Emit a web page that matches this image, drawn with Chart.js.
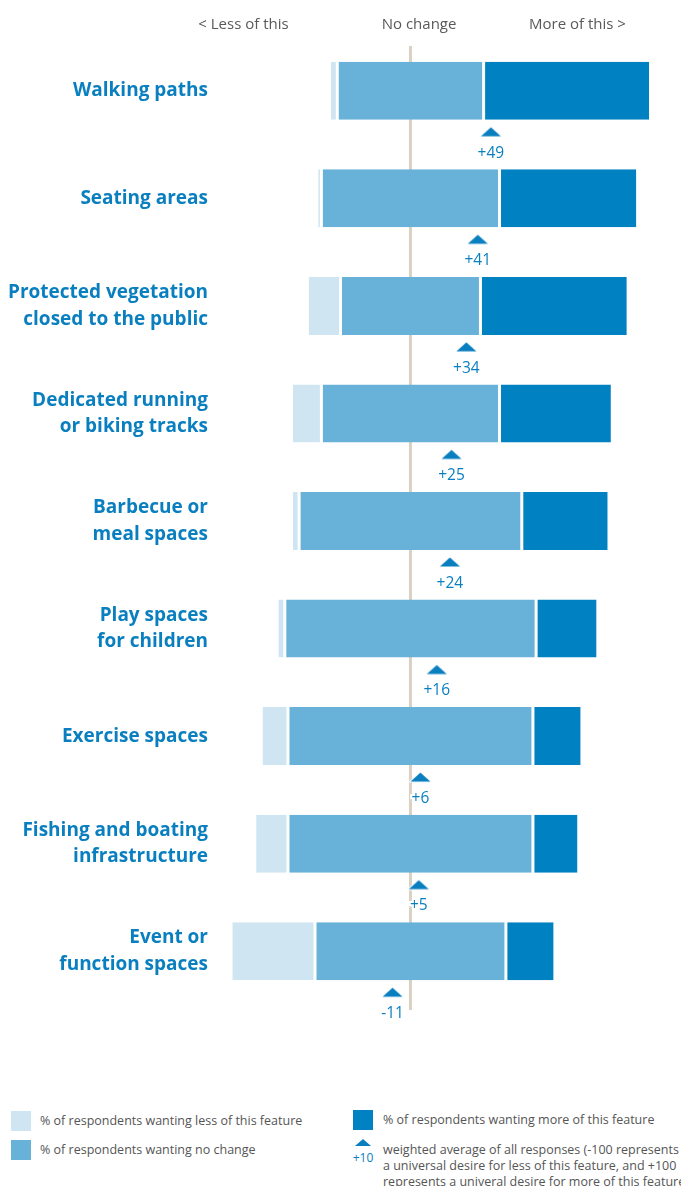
<!DOCTYPE html>
<html lang="en">
<head>
<meta charset="UTF-8" />
<meta name="viewport" content="width=device-width, initial-scale=1.0" />
<title>Park features: less, no change or more</title>
<script src="https://cdn.jsdelivr.net/npm/chart.js"></script>
<style>
  * { box-sizing: border-box; }
  body { margin: 0; width: 681px; height: 1186px; overflow: hidden; background: #fff; font-family: 'Open Sans', sans-serif; }
  .chart-wrap { position: absolute; top: 0; left: 0; width: 681px; height: 1040px; }
  .legend { font-size: 12.5px; color: #555; }
  .legend div { position: absolute; }
  .sw { width: 20px; height: 20px; }
  .txt { line-height: 16px; white-space: nowrap; }
  .tri { width: 0; height: 0; border-left: 8px solid transparent; border-right: 8px solid transparent; border-bottom: 7px solid #0a7fc0; }
  .tri-lbl { color: #0a7fc0; font-size: 12px; width: 30px; text-align: center; }
</style>
</head>
<body>
<div class="chart-wrap"><canvas id="chart"></canvas></div>

<div class="legend">
  <div class="sw" style="left:11px;top:1111px;background:#cfe5f2"></div>
  <div class="txt" style="left:40px;top:1113px">% of respondents wanting less of this feature</div>
  <div class="sw" style="left:11px;top:1140px;background:#68b1d8"></div>
  <div class="txt" style="left:40px;top:1142px">% of respondents wanting no change</div>
  <div class="sw" style="left:353px;top:1110px;background:#0081c1"></div>
  <div class="txt" style="left:383px;top:1112px">% of respondents wanting more of this feature</div>
  <div class="tri" style="left:355px;top:1139px"></div>
  <div class="tri-lbl" style="left:348px;top:1149px">+10</div>
  <div class="txt" style="left:383px;top:1142px">weighted average of all responses (-100 represents<br>a universal desire for less of this feature, and +100<br>represents a univeral desire for more of this feature)</div>
</div>

<script>
  // data
  const categories = [
    ['Walking paths'],
    ['Seating areas'],
    ['Protected vegetation', 'closed to the public'],
    ['Dedicated running', 'or biking tracks'],
    ['Barbecue or', 'meal spaces'],
    ['Play spaces', 'for children'],
    ['Exercise spaces'],
    ['Fishing and boating', 'infrastructure'],
    ['Event or', 'function spaces']
  ];
  const lessPct     = [2, 1, 10, 9, 2, 2, 8, 10, 26];
  const noChangePct = [46, 56, 44, 56, 70, 79, 77, 77, 60];
  const morePct     = [52, 43, 46, 35, 27, 19, 15, 14, 15];
  const weightedAvg = [49, 41, 34, 25, 24, 16, 6, 5, -11];
  const headerTicks  = [-52.5, 2.7, 52.5];
  const headerLabels = ['< Less of this', 'No change', 'More of this >'];

  const BLUE = '#0a7fc0';
  const LIGHT = '#cfe5f2', MID = '#68b1d8', DARK = '#0081c1';
  const MARK_OFFSET = 0.381;   // triangle below the bar, in category units
  const LABEL_OFFSET = 0.58;

  // diverging bars: "no change" centred on zero
  const lessBars = lessPct.map((v, i) => [-noChangePct[i] / 2 - v, -noChangePct[i] / 2]);
  const ncBars   = noChangePct.map(v => [-v / 2, v / 2]);
  const moreBars = morePct.map((v, i) => [noChangePct[i] / 2, noChangePct[i] / 2 + v]);
  const markers  = weightedAvg.map((w, i) => ({ x: w, y: i + MARK_OFFSET }));

  // flat triangle marker
  const tri = document.createElement('canvas');
  tri.width = 23; tri.height = 12;
  const tc = tri.getContext('2d');
  tc.beginPath();
  tc.moveTo(1.5, 10.5); tc.lineTo(11.5, 1.5); tc.lineTo(21.5, 10.5); tc.closePath();
  tc.strokeStyle = '#fff'; tc.lineWidth = 2; tc.stroke();
  tc.fillStyle = BLUE; tc.fill();

  const zeroLine = {
    id: 'zeroLine',
    beforeDatasetsDraw(chart) {
      const { ctx, chartArea, scales } = chart;
      const px = scales.x.getPixelForValue(0);
      ctx.save();
      ctx.strokeStyle = '#d9d1c2';
      ctx.lineWidth = 3;
      ctx.beginPath();
      ctx.moveTo(px, chartArea.top + 9);
      ctx.lineTo(px, chartArea.bottom + 5);
      ctx.stroke();
      ctx.restore();
    }
  };

  const markLabels = {
    id: 'markLabels',
    afterDatasetsDraw(chart) {
      const { ctx, scales } = chart;
      const meta = chart.getDatasetMeta(3);
      ctx.save();
      ctx.font = '15.5px "Open Sans", sans-serif';
      ctx.textAlign = 'center';
      ctx.textBaseline = 'middle';
      ctx.lineWidth = 4;
      ctx.strokeStyle = '#fff';
      ctx.fillStyle = BLUE;
      meta.data.forEach((pt, i) => {
        const w = weightedAvg[i];
        const txt = (w > 0 ? '+' : '') + w;
        const y = scales.y2.getPixelForValue(i + LABEL_OFFSET);
        ctx.strokeText(txt, pt.x, y);
        ctx.fillText(txt, pt.x, y);
      });
      ctx.restore();
    }
  };

  const barCommon = { borderColor: '#fff', borderSkipped: false, grouped: false, barThickness: 58, inflateAmount: 0 };

  new Chart(document.getElementById('chart'), {
    type: 'bar',
    data: {
      labels: categories,
      datasets: [
        { label: 'Less', data: lessBars, backgroundColor: LIGHT, borderWidth: { left: 0, right: 1.5, top: 0, bottom: 0 }, ...barCommon },
        { label: 'No change', data: ncBars, backgroundColor: MID, borderWidth: { left: 1.5, right: 1.5, top: 0, bottom: 0 }, ...barCommon },
        { label: 'More', data: moreBars, backgroundColor: DARK, borderWidth: { left: 1.5, right: 0, top: 0, bottom: 0 }, ...barCommon },
        { type: 'scatter', label: 'Weighted average', data: markers, indexAxis: 'x', xAxisID: 'x2', yAxisID: 'y2',
          pointStyle: tri, pointRadius: 5, showLine: false }
      ]
    },
    options: {
      indexAxis: 'y',
      responsive: true,
      maintainAspectRatio: false,
      animation: false,
      layout: { padding: { left: 0, right: 10, top: 0, bottom: 35 } },
      plugins: { legend: { display: false }, tooltip: { enabled: false } },
      scales: {
        x: {
          position: 'top', min: -60.5, max: 81.9,
          grid: { display: false, drawTicks: false }, border: { display: false },
          afterBuildTicks: s => { s.ticks = headerTicks.map(v => ({ value: v })); },
          afterFit: s => { s.height = 37; },
          ticks: { padding: 3, autoSkip: false, maxRotation: 0, color: '#595959',
                   font: { family: 'Open Sans', size: 15 }, callback: (v, i) => headerLabels[i] }
        },
        y: {
          type: 'category',
          grid: { display: false, drawTicks: false }, border: { display: false },
          afterFit: s => { s.width = 218; },
          ticks: { padding: 10, color: BLUE, font: { family: 'Open Sans', size: 19, weight: 'bold', lineHeight: 1.4 } }
        },
        x2: { axis: 'x', type: 'linear', display: false, offset: false, min: -117.4, max: 158.8 },
        y2: { axis: 'y', type: 'linear', display: false, offset: false, min: -0.5, max: 8.5, reverse: true }
      }
    },
    plugins: [zeroLine, markLabels]
  });
</script>
</body>
</html>
